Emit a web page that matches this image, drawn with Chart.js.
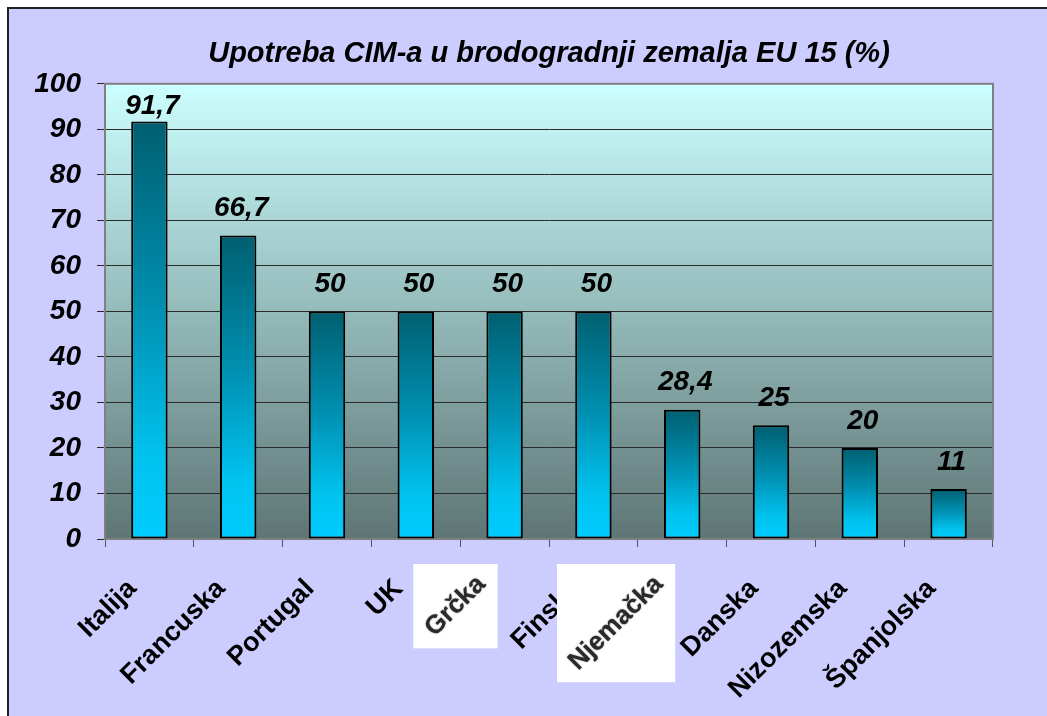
<!DOCTYPE html>
<html>
<head>
<meta charset="utf-8">
<script src="https://cdn.jsdelivr.net/npm/chart.js@4.4.1/dist/chart.umd.min.js"></script>
<style>
  html, body { margin: 0; padding: 0; background: #fff; }
  #frame {
    position: absolute; left: 7px; top: 7px; right: 0; bottom: 0;
    background: #CCCCFF;
    border-left: 2px solid #222; border-top: 2px solid #222;
  }
  #chart { position: absolute; left: 0; top: 0; }
</style>
</head>
<body>
<div id="frame"></div>
<canvas id="chart" width="1047" height="716"></canvas>
<script>
const categories = ["Italija", "Francuska", "Portugal", "UK", "Grčka", "Finska", "Njemačka", "Danska", "Nizozemska", "Španjolska"];
const values     = [91.7, 66.7, 50, 50, 50, 50, 28.4, 25, 20, 11];
const yMin = 0, yMax = 100, yStep = 10;
// these two labels sit on white boxes in the original (pasted in)
const boxedLabels = ["Grčka", "Njemačka"];

const FONT = "'Liberation Sans', Arial, sans-serif";

// gradient behind the plot
const plotBg = {
  id: "plotBg",
  beforeDraw(chart) {
    const { ctx, chartArea: a } = chart;
    if (!a) return;
    const g = ctx.createLinearGradient(0, a.top, 0, a.bottom);
    g.addColorStop(0, "#CCFFFF");
    g.addColorStop(1, "#5E7575");
    ctx.save();
    ctx.fillStyle = g;
    ctx.fillRect(a.left, a.top, a.right - a.left, a.bottom - a.top);
    ctx.restore();
  },
  beforeDatasetsDraw(chart) {
    const { ctx, chartArea: a } = chart;
    ctx.save();
    ctx.strokeStyle = "#808080";
    ctx.lineWidth = 2;
    ctx.strokeRect(a.left, a.top, a.right - a.left, a.bottom - a.top);
    ctx.restore();
  }
};

// value labels above bars
const valueLabels = {
  id: "valueLabels",
  afterDatasetsDraw(chart) {
    const { ctx, chartArea: a } = chart;
    const meta = chart.getDatasetMeta(0);
    ctx.save();
    ctx.font = "italic bold 28px " + FONT;
    ctx.fillStyle = "#000";
    ctx.textAlign = "center";
    ctx.textBaseline = "middle";
    meta.data.forEach((bar, i) => {
      const y = Math.max(bar.y - 27, a.top + 22);
      ctx.fillText(String(values[i]).replace(".", ","), bar.x + 3, y);
    });
    ctx.restore();
  }
};

// white boxes with the pasted labels
const boxLabels = {
  id: "boxLabels",
  afterDraw(chart) {
    const { ctx, chartArea: a } = chart;
    const xs = chart.scales.x;
    ctx.save();
    ctx.font = "bold 26px " + FONT;
    categories.forEach((c, i) => {
      if (!boxedLabels.includes(c)) return;
      const cx = xs.getPixelForTick(i);
      const w = ctx.measureText(c).width;
      const side = w * 0.71 + 32;
      const right = cx - 7, top = a.bottom + 25;
      ctx.fillStyle = "#fff";
      ctx.fillRect(right - side, top, side, side);
      ctx.save();
      ctx.translate(right - side / 2, top + side / 2);
      ctx.rotate(-Math.PI / 4);
      ctx.fillStyle = "#2a2a2a";
      ctx.shadowColor = "rgba(0,0,0,0.6)";
      ctx.shadowBlur = 1.5;
      ctx.textAlign = "center";
      ctx.textBaseline = "middle";
      ctx.fillText(c, 0, 0);
      ctx.restore();
    });
    ctx.restore();
  }
};

function barGradient(context) {
  const chart = context.chart;
  if (!chart.chartArea) return "#0099cc";
  const y = chart.scales.y;
  const top = y.getPixelForValue(values[context.dataIndex]);
  const bottom = y.getPixelForValue(0);
  const g = chart.ctx.createLinearGradient(0, top, 0, bottom);
  g.addColorStop(0, "#005F70");
  g.addColorStop(0.45, "#0090B2");
  g.addColorStop(0.8, "#00C2EE");
  g.addColorStop(1, "#00CCFF");
  return g;
}

new Chart(document.getElementById("chart"), {
  type: "bar",
  data: {
    labels: categories,
    datasets: [{
      data: values,
      backgroundColor: barGradient,
      borderColor: "#000",
      borderWidth: 2,
      borderSkipped: false,
      barPercentage: 0.41,
      categoryPercentage: 1
    }]
  },
  options: {
    responsive: false,
    animation: false,
    layout: { padding: { left: 0, right: 54, top: 0, bottom: 0 } },
    plugins: {
      legend: { display: false },
      tooltip: { enabled: false },
      title: {
        display: true,
        fullSize: false,
        text: "Upotreba CIM-a u brodogradnji zemalja EU 15 (%)",
        color: "#000",
        font: { family: FONT, size: 29, style: "italic", weight: "bold" },
        padding: { top: 37, bottom: 12 }
      }
    },
    scales: {
      x: {
        grid: { drawOnChartArea: false, drawTicks: true, tickLength: 8, color: "#555", offset: true },
        border: { color: "#808080", width: 2 },
        ticks: {
          maxRotation: 45, minRotation: 45,
          padding: 26,
          labelOffset: -17,
          color: (c) => boxedLabels.includes(categories[c.index]) ? "rgba(0,0,0,0)" : "#000",
          font: { family: FONT, size: 27, weight: "bold" }
        },
        afterFit(s) { s.height = 177; }
      },
      y: {
        min: yMin, max: yMax,
        grid: { color: "#2a2a2a", lineWidth: 1, tickLength: 8 },
        border: { color: "#808080", width: 2 },
        ticks: {
          stepSize: yStep,
          padding: 16,
          color: "#000",
          font: { family: FONT, size: 28, style: "italic", weight: "bold" }
        },
        afterFit(s) { s.width = 105; }
      }
    }
  },
  plugins: [plotBg, valueLabels, boxLabels]
});
</script>
</body>
</html>
